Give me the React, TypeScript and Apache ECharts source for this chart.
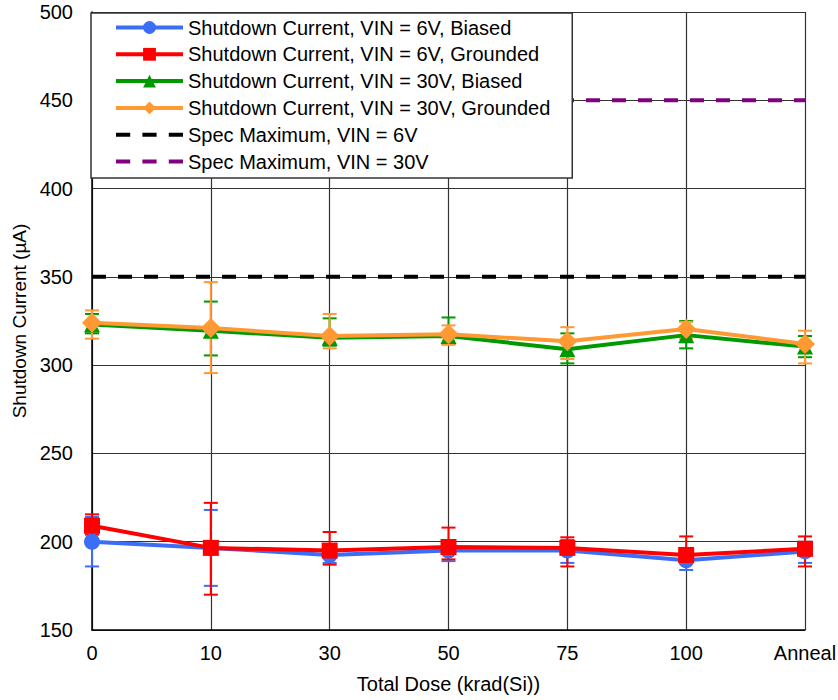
import React, { useEffect, useRef } from "react";
import * as echarts from "echarts";

const categories = ["0", "10", "30", "50", "75", "100", "Anneal"];

const vin6Biased = [200, 196.5, 192.5, 195, 195, 189.5, 194.5];
const vin6BiasedLow = [186, 175, 188, 189, 188, 184, 188];
const vin6BiasedHigh = [214, 218, 197, 201, 201, 195, 200];

const vin6Grounded = [209, 196.5, 195, 197, 196.5, 192.5, 196];
const vin6GroundedLow = [204, 170, 187, 190, 186, 188, 186];
const vin6GroundedHigh = [215.5, 222, 205.5, 208, 202.5, 203, 203];

const vin30Biased = [323, 319.5, 315.5, 316.5, 309, 317, 310.5];
const vin30BiasedLow = [318, 305.5, 311, 312, 301, 309.5, 304.5];
const vin30BiasedHigh = [329, 336, 326.5, 327, 318, 325, 316.5];

const vin30Grounded = [324, 321, 316.5, 317.5, 313.5, 320.5, 312];
const vin30GroundedLow = [315, 295.5, 309.5, 311.5, 303.5, 315, 301];
const vin30GroundedHigh = [331, 347, 329, 322.5, 321.5, 324.5, 319.5];

const specMax6V = 350;
const specMax30V = 450;

const yTicks = [150, 200, 250, 300, 350, 400, 450, 500];

const FONT = "'Liberation Sans', Arial, sans-serif";

// three short dashes, used as the legend icon of the spec limit lines
const DASH_ICON = "path://M0,0H14V4H0Z M26,0H40V4H26Z M52,0H66V4H52Z";

function errorBarSeries(name: string, color: string, low: number[], high: number[]) {
  return {
    type: "custom",
    name: name + " (error)",
    z: 1,
    silent: true,
    data: low.map((l, i) => [i, l, high[i]]),
    encode: { x: 0, y: [1, 2] },
    renderItem: (params: any, api: any) => {
      const i = api.value(0);
      const lo = api.coord([i, api.value(1)]);
      const hi = api.coord([i, api.value(2)]);
      const half = 7;
      const style = { stroke: color, lineWidth: 2 };
      return {
        type: "group",
        children: [
          { type: "line", shape: { x1: lo[0], y1: lo[1], x2: hi[0], y2: hi[1] }, style },
          { type: "line", shape: { x1: lo[0] - half, y1: lo[1], x2: lo[0] + half, y2: lo[1] }, style },
          { type: "line", shape: { x1: hi[0] - half, y1: hi[1], x2: hi[0] + half, y2: hi[1] }, style },
        ],
      };
    },
  };
}

function dataSeries(name: string, color: string, data: number[], symbol: string, size: number) {
  return {
    type: "line",
    name,
    z: 3,
    data,
    symbol,
    symbolSize: size,
    showSymbol: true,
    lineStyle: { color, width: 4 },
    itemStyle: { color },
  };
}

function specSeries(name: string, color: string, value: number) {
  return {
    type: "line",
    name,
    z: 2,
    data: categories.map(() => value),
    symbol: "none",
    lineStyle: { color, width: 4, type: [14, 12] },
    itemStyle: { color },
  };
}

export default function App() {
  const ref = useRef<HTMLDivElement>(null);

  useEffect(() => {
    if (!ref.current) return;
    const chart = echarts.init(ref.current, null, { renderer: "svg" });
    chart.setOption({
      animation: false,
      backgroundColor: "#ffffff",
      textStyle: { fontFamily: FONT },
      grid: {
        left: 92,
        right: 33,
        top: 12,
        bottom: 70,
        containLabel: false,
        outerBoundsMode: "none",
      },
      legend: {
        left: 91,
        top: 13,
        orient: "vertical",
        backgroundColor: "#ffffff",
        borderColor: "#333333",
        borderWidth: 1.5,
        borderRadius: 0,
        padding: [4, 22, 6, 23],
        itemWidth: 67,
        itemHeight: 16,
        itemGap: 5.8,
        lineStyle: { width: 4 },
        data: [
          { name: "Shutdown Current, VIN = 6V, Biased" },
          { name: "Shutdown Current, VIN = 6V, Grounded" },
          { name: "Shutdown Current, VIN = 30V, Biased" },
          { name: "Shutdown Current, VIN = 30V, Grounded" },
          { name: "Spec Maximum, VIN = 6V", icon: DASH_ICON, itemStyle: { color: "#000000" } },
          { name: "Spec Maximum, VIN = 30V", icon: DASH_ICON, itemStyle: { color: "#800080" } },
        ],
        textStyle: { fontFamily: FONT, fontSize: 20, color: "#000", lineHeight: 21 },
        z: 10,
      },
      xAxis: {
        type: "category",
        data: categories,
        boundaryGap: false,
        name: "Total Dose (krad(Si))",
        nameLocation: "middle",
        nameGap: 44,
        nameTextStyle: { fontFamily: FONT, fontSize: 20, color: "#000" },
        axisLine: { show: true, lineStyle: { color: "#000", width: 1.5 } },
        axisTick: { show: false },
        axisLabel: {
          fontFamily: FONT,
          fontSize: 20,
          color: "#000",
          margin: 13,
          overflow: "none",
          hideOverlap: false,
          interval: 0,
        },
        splitLine: { show: true, lineStyle: { color: "#333", width: 1.2 } },
      },
      yAxis: {
        type: "value",
        min: yTicks[0],
        max: yTicks[yTicks.length - 1],
        interval: 50,
        name: "Shutdown Current (µA)",
        nameLocation: "middle",
        nameGap: 60,
        nameTextStyle: { fontFamily: FONT, fontSize: 19, color: "#000" },
        axisLine: { show: true, lineStyle: { color: "#000", width: 1.5 } },
        axisTick: { show: false },
        axisLabel: { fontFamily: FONT, fontSize: 20, color: "#000", margin: 19 },
        splitLine: { show: true, lineStyle: { color: "#333", width: 1.2 } },
      },
      series: [
        errorBarSeries("Shutdown Current, VIN = 6V, Biased", "#3b6ef5", vin6BiasedLow, vin6BiasedHigh),
        errorBarSeries("Shutdown Current, VIN = 6V, Grounded", "#ff0000", vin6GroundedLow, vin6GroundedHigh),
        errorBarSeries("Shutdown Current, VIN = 30V, Biased", "#009900", vin30BiasedLow, vin30BiasedHigh),
        errorBarSeries("Shutdown Current, VIN = 30V, Grounded", "#ff9933", vin30GroundedLow, vin30GroundedHigh),
        specSeries("Spec Maximum, VIN = 6V", "#000000", specMax6V),
        specSeries("Spec Maximum, VIN = 30V", "#800080", specMax30V),
        dataSeries("Shutdown Current, VIN = 6V, Biased", "#3b6ef5", vin6Biased, "circle", 16),
        dataSeries("Shutdown Current, VIN = 6V, Grounded", "#ff0000", vin6Grounded, "rect", 16),
        dataSeries("Shutdown Current, VIN = 30V, Biased", "#009900", vin30Biased, "triangle", 16),
        dataSeries("Shutdown Current, VIN = 30V, Grounded", "#ff9933", vin30Grounded, "diamond", 20),
      ],
    });
    return () => chart.dispose();
  }, []);

  return <div ref={ref} style={{ position: "fixed", left: 0, top: 0, width: 838, height: 700 }} />;
}
